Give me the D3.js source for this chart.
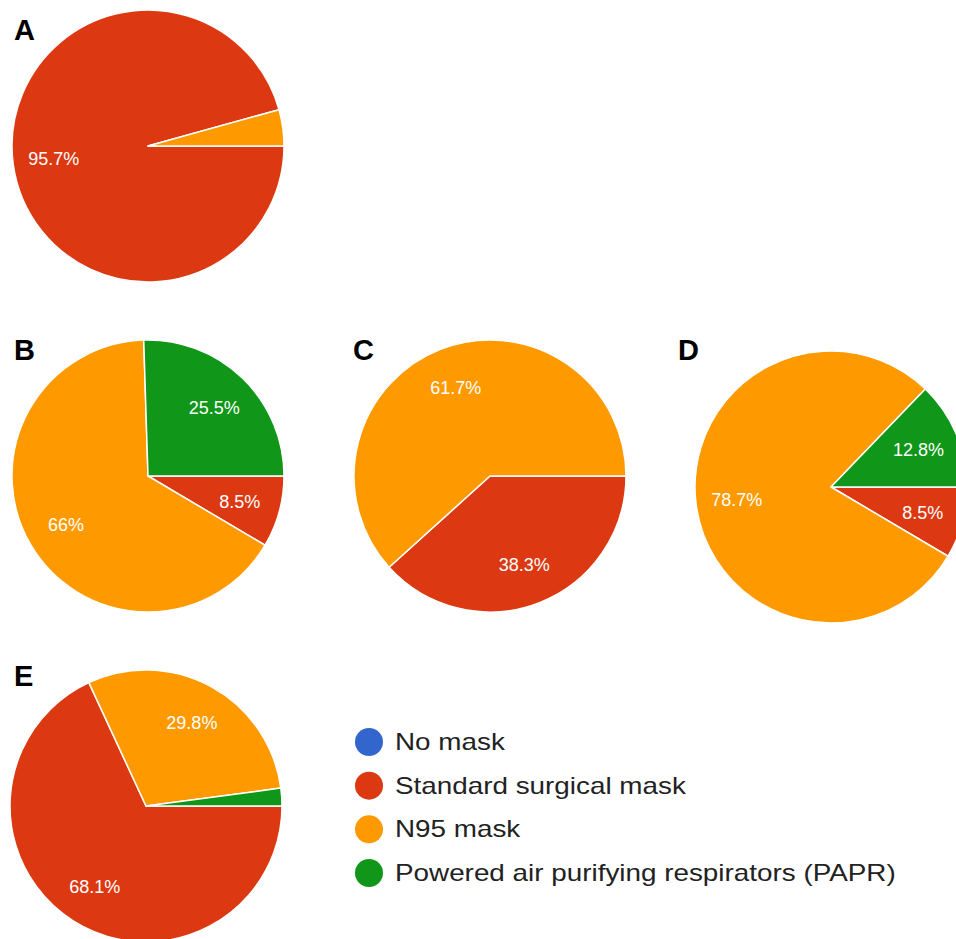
<!DOCTYPE html>
<html>
<head>
<meta charset="utf-8">
<script src="https://cdn.jsdelivr.net/npm/d3@7"></script>
<style>
  html, body { margin: 0; padding: 0; background: #fff; }
  svg { display: block; }
</style>
</head>
<body>
<svg id="chart" width="956" height="939"></svg>
<script>
// Mask categories and their colours
const categories = ["No mask", "Standard surgical mask", "N95 mask", "Powered air purifying respirators (PAPR)"];
const colors = ["#3366cc", "#dc3912", "#ff9900", "#109618"];

// Percent share per category, one array per panel
const panelA = [0, 95.7, 4.3, 0];
const panelB = [0, 8.5, 66, 25.5];
const panelC = [0, 38.3, 61.7, 0];
const panelD = [0, 8.5, 78.7, 12.8];
const panelE = [0, 68.1, 29.8, 2.1];

const panelNames = ["A", "B", "C", "D", "E"];

const svg = d3.select("#chart");
const font = "'Liberation Sans', Arial, sans-serif";

// Panel layout: pie centre and letter position
const panels = [
  { name: panelNames[0], values: panelA, cx: 148, cy: 146, lx: 14, ly: 40 },
  { name: panelNames[1], values: panelB, cx: 148, cy: 476, lx: 14, ly: 360 },
  { name: panelNames[2], values: panelC, cx: 490, cy: 476, lx: 353, ly: 360 },
  { name: panelNames[3], values: panelD, cx: 831, cy: 487, lx: 678, ly: 360 },
  { name: panelNames[4], values: panelE, cx: 146, cy: 806, lx: 14, ly: 686 }
];

const radius = 136;
const color = d3.scaleOrdinal().domain(categories).range(colors);

// Slices start at 3 o'clock and run clockwise
const pie = d3.pie()
  .sort(null)
  .value(d => d.value)
  .startAngle(Math.PI / 2)
  .endAngle(Math.PI / 2 + 2 * Math.PI);

const arc = d3.arc().innerRadius(0).outerRadius(radius);
const labelArc = d3.arc().innerRadius(radius * 0.7).outerRadius(radius * 0.7);

panels.forEach(p => {
  const data = categories.map((c, i) => ({ cat: c, value: p.values[i] }));
  const arcs = pie(data).filter(d => d.data.value > 0);
  const g = svg.append("g").attr("transform", `translate(${p.cx},${p.cy})`);

  g.selectAll("path.slice")
    .data(arcs)
    .enter().append("path")
    .attr("class", "slice")
    .attr("d", arc)
    .attr("fill", d => color(d.data.cat))
    .attr("stroke", "#ffffff")
    .attr("stroke-width", 1.5)
    .attr("stroke-linejoin", "round");

  // Percent labels on slices large enough to hold them
  g.selectAll("text.pct")
    .data(arcs.filter(d => d.data.value >= 5))
    .enter().append("text")
    .attr("class", "pct")
    .attr("transform", d => `translate(${labelArc.centroid(d)})`)
    .attr("text-anchor", "middle")
    .attr("dy", "0.36em")
    .attr("fill", "#ffffff")
    .style("font-family", font)
    .style("font-size", "18px")
    .text(d => d.data.value + "%");

  svg.append("text")
    .attr("x", p.lx)
    .attr("y", p.ly)
    .attr("fill", "#000")
    .style("font-family", font)
    .style("font-weight", "bold")
    .style("font-size", "29px")
    .text(p.name);
});

// Legend
const legend = svg.append("g").attr("transform", "translate(369,742)");
const legendY = d3.scalePoint().domain(categories).range([0, 131]);

const items = legend.selectAll("g.item")
  .data(categories)
  .enter().append("g")
  .attr("class", "item")
  .attr("transform", d => `translate(0,${legendY(d)})`);

items.append("circle")
  .attr("r", 14)
  .attr("fill", d => color(d));

items.append("text")
  .attr("transform", "translate(26,8) scale(1.16,1)")
  .attr("fill", "#222")
  .style("font-family", font)
  .style("font-size", "24px")
  .text(d => d);
</script>
</body>
</html>
